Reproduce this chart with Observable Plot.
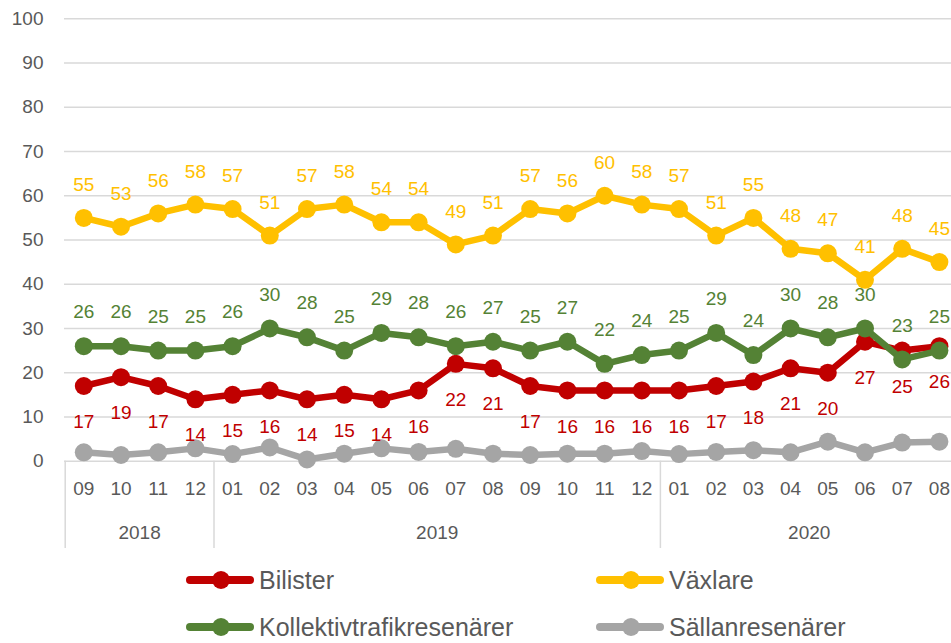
<!DOCTYPE html>
<html><head><meta charset="utf-8">
<script src="https://cdn.jsdelivr.net/npm/d3@7"></script>
<script src="https://cdn.jsdelivr.net/npm/@observablehq/plot@0.6"></script>
<style>
body{margin:0;background:#fff;font-family:"Liberation Sans",Arial,sans-serif;}
#wrap{position:relative;width:951px;height:643px;overflow:hidden;background:#fff;}
#chart{position:absolute;left:0;top:0;}
.leg{position:absolute;display:flex;align-items:center;height:28px;font-size:25px;line-height:28px;color:#595959;white-space:nowrap;}
.leg svg{margin-right:4px;}
</style></head><body><div id="wrap"><div id="chart"></div></div>
<script>
const months = ["09","10","11","12","01","02","03","04","05","06","07","08","09","10","11","12","01","02","03","04","05","06","07","08"];
const years  = ["2018","2018","2018","2018","2019","2019","2019","2019","2019","2019","2019","2019","2019","2019","2019","2019","2020","2020","2020","2020","2020","2020","2020","2020"];
const yTicks = [0,10,20,30,40,50,60,70,80,90,100];

const bilister  = [17,19,17,14,15,16,14,15,14,16,22,21,17,16,16,16,16,17,18,21,20,27,25,26];
const vaxlare   = [55,53,56,58,57,51,57,58,54,54,49,51,57,56,60,58,57,51,55,48,47,41,48,45];
const kollektiv = [26,26,25,25,26,30,28,25,29,28,26,27,25,27,22,24,25,29,24,30,28,30,23,25];
const sallan    = [2.0,1.4,2.0,2.9,1.6,3.1,0.4,1.7,2.9,2.1,2.8,1.7,1.4,1.7,1.7,2.3,1.6,2.1,2.5,2.0,4.4,2.0,4.2,4.4];

const seriesNames  = ["Bilister","Växlare","Kollektivtrafikresenärer","Sällanresenärer"];
const seriesColors = ["#C00000","#FFC000","#548235","#A5A5A5"];
const seriesValues = [bilister, vaxlare, kollektiv, sallan];
const labelDy      = [36, -33, -34, null];

const series = seriesNames.map((name, k) => ({
  name, color: seriesColors[k], dy: labelDy[k],
  rows: seriesValues[k].map((v, i) => ({i, v}))
}));

const yearGroups = [...new Set(years)].map(y => {
  const idx = years.map((yy, i) => yy === y ? i : -1).filter(i => i >= 0);
  return {year: y, center: d3.mean(idx)};
});
const seps = [-0.5].concat(years.map((y, i) => (i > 0 && y !== years[i-1]) ? i - 0.5 : null).filter(d => d !== null));

const marks = [
  Plot.gridY(yTicks, {stroke: "#D9D9D9", strokeOpacity: 1, strokeWidth: 1.5}),
  Plot.axisY(yTicks, {tickSize: 0, tickPadding: 21, fill: "#595959", fontSize: 19, label: null}),
  Plot.ruleX(seps, {x: d => d, insetTop: 442.7, stroke: "#D9D9D9", strokeWidth: 1.5})
];
for (const s of series) {
  marks.push(Plot.line(s.rows, {x: "i", y: "v", stroke: s.color, strokeWidth: 6.5}));
  marks.push(Plot.dot(s.rows, {x: "i", y: "v", r: 9, fill: s.color, stroke: null}));
}
for (const s of series) {
  if (s.dy === null) continue;
  marks.push(Plot.text(s.rows, {x: "i", y: "v", text: d => String(d.v), dy: s.dy, fill: s.color, fontSize: 19}));
}
marks.push(Plot.text(months, {x: (d, i) => i, y: () => 0, text: d => d, dy: 28, fill: "#595959", fontSize: 19}));
marks.push(Plot.text(yearGroups, {x: "center", y: () => 0, text: "year", dy: 72, fill: "#595959", fontSize: 19}));

const chart = Plot.plot({
  width: 951, height: 560,
  marginLeft: 64, marginRight: 0, marginTop: 18, marginBottom: 12,
  x: {type: "linear", domain: [-0.5, 23.5], range: [64.7, 957.5], axis: null},
  y: {domain: [0, 100], range: [460.7, 18.3]},
  style: {fontFamily: "'Liberation Sans', Arial, sans-serif", fontSize: "19px", color: "#595959", background: "white"},
  marks
});
document.getElementById("chart").appendChild(chart);

const wrap = document.getElementById("wrap");
const legPos = [[185, 566], [595, 566], [185, 613], [595, 613]];
series.forEach((s, k) => {
  const div = document.createElement("div");
  div.className = "leg";
  div.style.left = legPos[k][0] + "px";
  div.style.top = legPos[k][1] + "px";
  div.innerHTML = `<svg width="70" height="22"><line x1="5" x2="65" y1="11" y2="11" stroke="${s.color}" stroke-width="8" stroke-linecap="round"/><circle cx="36" cy="11" r="9" fill="${s.color}"/></svg><span>${s.name}</span>`;
  wrap.appendChild(div);
});
</script></body></html>
